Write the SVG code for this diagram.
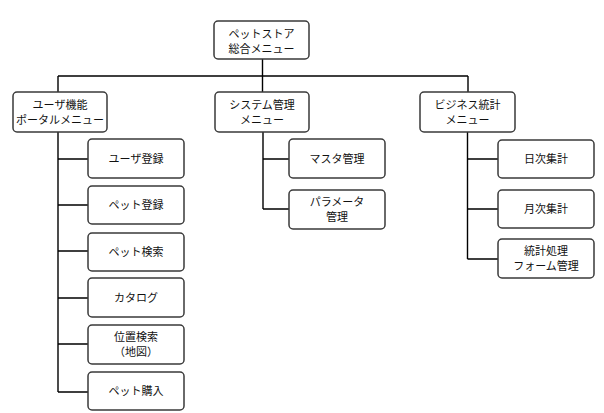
<svg xmlns="http://www.w3.org/2000/svg" width="604" height="413" viewBox="0 0 604 413">
<style>
.box{fill:#fff;stroke:#3a3a3a;stroke-width:1.5}
.t{font-family:"Noto Sans CJK JP","Noto Sans",sans-serif;font-size:11px;fill:#111;text-anchor:middle}
.ln{fill:none;stroke:#000;stroke-width:1.4}
</style>
<rect width="604" height="413" fill="#fff"/>
<g id="connectors">
<path class="ln" d="M262.5,59V92M58,76H468M58,76V92M468,76V92"/>
<path class="ln" d="M58,132V392M58,159H88M58,205H88M58,251H88M58,298H88M58,344H88M58,392H88"/>
<path class="ln" d="M263,132V209M263,159H289M263,209H289"/>
<path class="ln" d="M467.5,132V259M467.5,159H498M467.5,209H498M467.5,259H498"/>
</g>
<g id="root"><rect class="box" x="214" y="21" width="95" height="38" rx="4"/><text class="t" x="261.5" y="38">ペットストア</text><text class="t" x="261.5" y="53">総合メニュー</text></g>
<g id="user"><rect class="box" x="13" y="92" width="94" height="40" rx="4"/><text class="t" x="60" y="109">ユーザ機能</text><text class="t" x="60" y="124">ポータルメニュー</text></g>
<g id="sys"><rect class="box" x="215" y="92" width="94" height="40" rx="4"/><text class="t" x="262" y="109">システム管理</text><text class="t" x="262" y="124">メニュー</text></g>
<g id="biz"><rect class="box" x="420" y="92" width="95" height="40" rx="4"/><text class="t" x="467.5" y="109">ビジネス統計</text><text class="t" x="467.5" y="124">メニュー</text></g>
<g id="user-reg"><rect class="box" x="88" y="139" width="96" height="39" rx="4"/><text class="t" x="136" y="162.5">ユーザ登録</text></g>
<g id="pet-reg"><rect class="box" x="88" y="186" width="96" height="38" rx="4"/><text class="t" x="136" y="209">ペット登録</text></g>
<g id="pet-search"><rect class="box" x="88" y="233" width="96" height="38" rx="4"/><text class="t" x="136" y="256">ペット検索</text></g>
<g id="catalog"><rect class="box" x="88" y="278" width="96" height="39" rx="4"/><text class="t" x="136" y="301.5">カタログ</text></g>
<g id="loc-search"><rect class="box" x="88" y="325" width="96" height="39" rx="4"/><text class="t" x="136" y="341">位置検索</text><text class="t" x="136" y="356">（地図）</text></g>
<g id="pet-buy"><rect class="box" x="88" y="372" width="96" height="38" rx="4"/><text class="t" x="136" y="395">ペット購入</text></g>
<g id="master"><rect class="box" x="289" y="139" width="96" height="39" rx="4"/><text class="t" x="337" y="162.5">マスタ管理</text></g>
<g id="param"><rect class="box" x="289" y="190" width="96" height="39" rx="4"/><text class="t" x="337" y="206">パラメータ</text><text class="t" x="337" y="221">管理</text></g>
<g id="daily"><rect class="box" x="498" y="140" width="96" height="38" rx="4"/><text class="t" x="546" y="163">日次集計</text></g>
<g id="monthly"><rect class="box" x="498" y="190" width="96" height="38" rx="4"/><text class="t" x="546" y="213">月次集計</text></g>
<g id="stats"><rect class="box" x="498" y="239" width="96" height="39" rx="4"/><text class="t" x="546" y="255">統計処理</text><text class="t" x="546" y="270">フォーム管理</text></g>
</svg>
